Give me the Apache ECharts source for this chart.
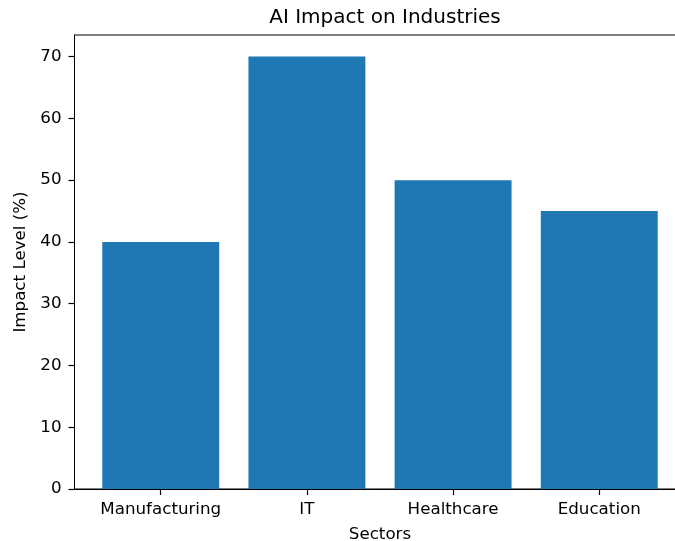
<!DOCTYPE html>
<html>
<head>
<meta charset="utf-8">
<script src="https://cdn.jsdelivr.net/npm/echarts@6/dist/echarts.min.js"></script>
<style>
html,body{margin:0;padding:0;background:#fff;}
#chart{width:675px;height:541px;}
</style>
</head>
<body>
<div id="chart"></div>
<script>
const categories = ['Manufacturing', 'IT', 'Healthcare', 'Education'];
const impactValues = [40, 70, 50, 45];
const yTicks = [0, 10, 20, 30, 40, 50, 60, 70];

const FONT = 'DejaVu Sans';
const gridLeft = 74.5, gridRight = -10.5, gridTop = 35, gridBottom = 52;
const xMin = -0.59, xMax = categories.length - 1 + 0.59;
const plotW = 675 - gridLeft - gridRight;
const unit = plotW / (xMax - xMin);

const chart = echarts.init(document.getElementById('chart'), null, {renderer: 'canvas'});
chart.setOption({
  animation: false,
  backgroundColor: '#fff',
  title: {
    text: 'AI Impact on Industries',
    left: gridLeft + plotW / 2,
    top: 3,
    textAlign: 'center',
    textStyle: {fontFamily: FONT, fontSize: 20, fontWeight: 'normal', color: '#000'}
  },
  grid: {
    left: gridLeft, right: gridRight, top: gridTop, bottom: gridBottom,
    containLabel: false,
    outerBoundsMode: 'none',
    show: true, borderColor: '#000', borderWidth: 1, backgroundColor: 'transparent'
  },
  xAxis: {
    type: 'value',
    min: xMin, max: xMax,
    name: 'Sectors',
    nameLocation: 'middle',
    nameGap: 37,
    nameTextStyle: {fontFamily: FONT, fontSize: 16.7, color: '#000'},
    axisLine: {show: true, onZero: false, lineStyle: {color: '#000', width: 1}},
    axisTick: {show: true, inside: false, length: 6, customValues: categories.map((c, i) => i), lineStyle: {color: '#000', width: 1.2}},
    axisLabel: {
      customValues: categories.map((c, i) => i),
      formatter: v => categories[Math.round(v)] || '',
      margin: 12,
      fontFamily: FONT, fontSize: 16.7, color: '#000'
    },
    splitLine: {show: false}
  },
  yAxis: {
    type: 'value',
    min: 0, max: 73.5,
    name: 'Impact Level (%)',
    nameLocation: 'middle',
    nameGap: 40,
    nameTextStyle: {fontFamily: FONT, fontSize: 16.7, color: '#000'},
    axisLine: {show: true, onZero: false, lineStyle: {color: '#000', width: 1}},
    axisTick: {show: true, inside: false, length: 6, customValues: yTicks, lineStyle: {color: '#000', width: 1.2}},
    axisLabel: {customValues: yTicks, margin: 13, fontFamily: FONT, fontSize: 16.7, color: '#000'},
    splitLine: {show: false}
  },
  series: [{
    type: 'bar',
    data: impactValues.map((v, i) => [i, v]),
    barWidth: unit * 0.8,
    itemStyle: {color: '#1f77b4'}
  }]
});
</script>
</body>
</html>
